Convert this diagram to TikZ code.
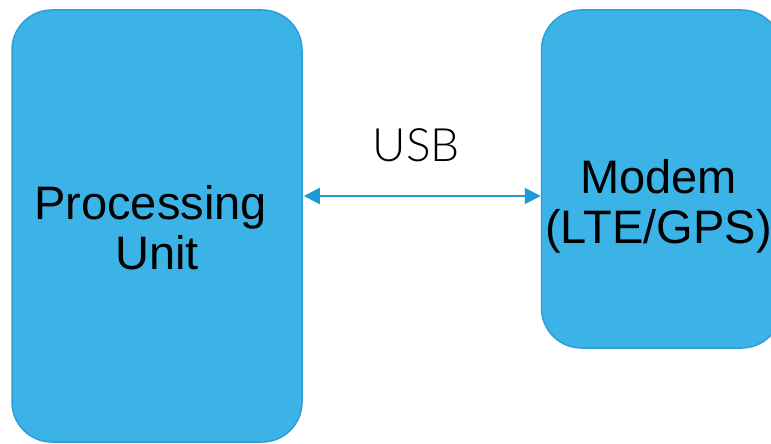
\documentclass[tikz,border=0pt]{standalone}
\usepackage{fontspec}
\setmainfont{Liberation Sans}
\newfontfamily\usbfont{Lato Light}
\usetikzlibrary{positioning, arrows.meta, calc}
\definecolor{boxfill}{HTML}{3BB3E6}
\definecolor{boxline}{HTML}{2A9FD8}
\definecolor{linkcol}{HTML}{1E9BD7}
\tikzset{
  unitbox/.style={draw=boxline, line width=1.5pt, fill=boxfill, rounded corners=40pt, inner sep=0pt, align=center},
  bigtext/.style={font=\fontsize{47}{50}\selectfont, text=black, align=center},
  linkarrow/.style={{Triangle[length=16pt, width=16pt]}-{Triangle[length=16pt, width=16pt]}, line width=2pt, draw=linkcol}
}
\begin{document}
\begin{tikzpicture}[x=1pt, y=1pt]
\useasboundingbox (0,0) rectangle (771,-444);

\node[unitbox, minimum width=290pt, minimum height=432pt] (proc) at (157,-226) {};
\node[bigtext, yshift=-2pt] (proctext) at (proc.center) {Processing\hspace*{13pt}\\Unit};

\node[unitbox, minimum width=240pt, minimum height=338pt, right=238pt of proc.north east, anchor=north west] (modem) {};
\node[bigtext, yshift=-27pt, xshift=-3pt] (modemtext) at (modem.center) {Modem\\(LTE/GPS)};

\coordinate (link) at ([yshift=30pt, xshift=1pt]proc.east);
\draw[linkarrow] (link) -- (link -| modem.west) node[midway, above=30pt, xshift=-6pt, font=\usbfont\fontsize{46}{50}\selectfont] (usb) {USB};
\end{tikzpicture}
\end{document}
